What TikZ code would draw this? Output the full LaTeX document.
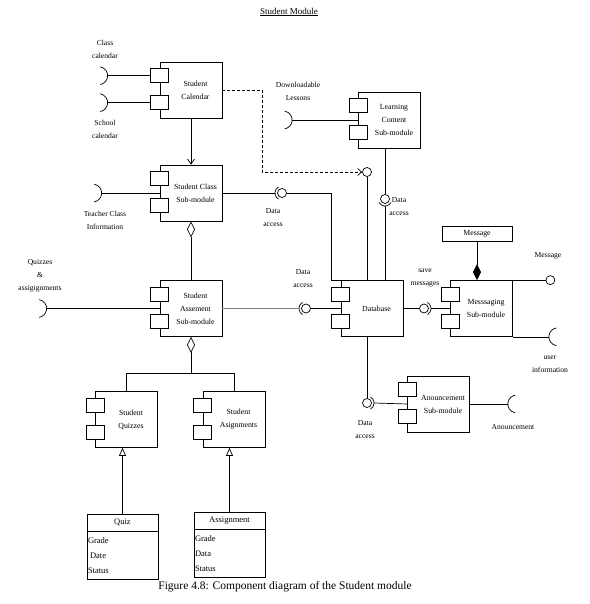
\documentclass[tikz,border=0pt]{standalone}
\usepackage{fontspec}
\setmainfont{Liberation Serif}
\usetikzlibrary{arrows.meta,calc,positioning}
\newcommand{\boxfont}{\fontsize{7.8}{13}\selectfont}
\newcommand{\lblfont}{\fontsize{7.6}{13}\selectfont}
\newcommand{\clsfont}{\fontsize{8.5}{15}\selectfont}
\tikzset{
  comp/.style={draw, fill=white, minimum width=62pt, minimum height=56pt, inner sep=0pt,
    label={[comptext]center:#1}},
  comptext/.style={align=center, font=\boxfont, inner sep=0pt, xshift=4.5pt},
  ball/.style={draw, fill=white, circle, inner sep=0pt, minimum size=9pt},
  lbl/.style={align=center, font=\lblfont, inner sep=0pt},
  clshead/.style={draw, minimum width=71pt, minimum height=17pt, font=\clsfont, inner sep=0pt},
  clsbody/.style={draw, minimum width=71pt, minimum height=48pt, text width=69pt, align=left, font=\clsfont, inner sep=1pt},
  odiamond/.style={{Diamond[open,length=16pt,width=8pt]}-},
}
% two ports on the left side of a component
\newcommand{\compports}[1]{%
  \draw[fill=white] ($(#1.north west)+(-9,7)$) rectangle ++(18,14);
  \draw[fill=white] ($(#1.north west)+(-9,34)$) rectangle ++(18,14);
  \coordinate (#1-p1) at ($(#1.north west)+(-9,14)$);
  \coordinate (#1-p2) at ($(#1.north west)+(-9,41)$);
}
% required interface: point, direction of the bulge
\newcommand{\sockend}[2]{\draw (#1) ++(#2+180:9) ++(#2-80:9) arc (#2-80:#2+80:9);}
% cup round a ball
\newcommand{\halfcup}[2]{\draw (#1) ++(#2-60:7) arc (#2-60:#2+60:7);}

\begin{document}
\begin{tikzpicture}[x=1pt, y=-1pt, line width=0.7pt]
  \useasboundingbox (0,0) rectangle (589,604);
  \node[font=\fontsize{9}{11}\selectfont] (title) at (289,12) {\underline{Student Module}};

  % components
  \node[comp={Student\\Calendar}] (cal) at (191,90) {};
  \node[comp={Student Class\\Sub-module}] (cls) at (191,193) {};
  \node[comp={Student\\Assement\\Sub-module}] (asm) at (191,308.5) {};
  \node[comp={Learning\\Content\\Sub-module}] (lcs) at (389.5,120) {};
  \node[comp={Database}] (db) at (372,308.5) {};
  \node[comp={Messsaging\\Sub-module}] (msg) at (481.5,308.5) {};
  \node[comp={Anouncement\\Sub-module}] (ann) at (438.5,404) {};
  \node[comp={Student\\Quizzes}] (qz) at (126.5,419.5) {};
  \node[comp={Student\\Asignments}] (asg) at (234,419.5) {};
  \foreach \c in {cal,cls,asm,lcs,db,msg,ann,qz,asg} {\compports{\c}}

  % required interfaces
  \draw (cal-p1) -- ++(-43,0) coordinate (clcal);
  \sockend{clcal}{0}
  \draw (cal-p2) -- ++(-43,0) coordinate (scal);
  \sockend{scal}{0}
  \draw (cls.west) -- ++(-58,0) coordinate (tcls);
  \sockend{tcls}{0}
  \draw (asm.west) -- ++(-113,0) coordinate (qzin);
  \sockend{qzin}{0}
  \draw (lcs.west) -- ++(-66,0) coordinate (dlin);
  \sockend{dlin}{0}
  \draw (msg.south east) -- ++(36,0) coordinate (uinfo);
  \sockend{uinfo}{180}
  \draw (ann.east) -- ++(38,0) coordinate (annin);
  \sockend{annin}{180}

  % provided interface
  \node[ball] (mball) at ($(msg.north east)+(37.5,0)$) {};
  \draw (msg.north east) -- (mball.west);

  % data access
  \node[ball] (cball) at (282,193) {};
  \halfcup{cball}{180}
  \draw (cls.east) -- ($(cball)+(-7,0)$);
  \draw (cball.east) -| ($(db.north west)+(-9,0)$) -- (db.north west);

  \node[ball] (aball) at (306,308.5) {};
  \halfcup{aball}{180}
  \draw[gray, line width=0.5pt] (asm.east) -- ($(aball)+(-7,0)$);
  \draw (aball.east) -- (db.west);

  \node[ball] (sball) at (424,308.5) {};
  \halfcup{sball}{0}
  \draw (db.east) -- (sball.west);
  \draw ($(sball)+(7,0)$) -- (msg.west);

  \node[ball] (dball) at (367,172) {};
  \draw[densely dashed, -{Straight Barb[length=4pt,width=7pt]}] (cal.east) -- ++(40,0) |- (dball.west);
  \draw (dball.south) -- (dball.south |- db.north);

  \node[ball] (lball) at (385,199) {};
  \halfcup{lball}{90}
  \draw (lball.north) -- (lball.north |- lcs.south);
  \coordinate (lcup) at ($(lball)+(0,7)$);
  \draw (lcup) -- (lcup |- db.north);

  \node[ball] (nball) at (367,403) {};
  \halfcup{nball}{0}
  \draw (nball.north) -- (nball.north |- db.south);
  \draw ($(nball)+(7,0)$) -- (ann.west);

  % message class
  \node[draw, minimum width=70pt, minimum height=15pt, font=\boxfont, inner sep=0pt] (mcls) at (477,233.5) {Message};
  \draw[-{Diamond[length=16pt,width=8pt]}] (mcls.south) -- (mcls.south |- msg.north);

  % hierarchy
  \draw[-{Straight Barb[length=5pt,width=7pt]}] (cal.south) -- (cls.north);
  \draw[odiamond] (cls.south) -- (asm.north);
  \draw[odiamond] (asm.south) -- ++(0,36) coordinate (fork) -| (qz.north);
  \draw (fork) -| (asg.north);

  % classes
  \node[clshead] (quiz) at (122.5,522.5) {Quiz};
  \node[clsbody, below=0pt of quiz] (quizattr) {Grade\\\hspace*{2pt}Date\\Status};
  \node[clshead] (asgn) at (229.5,520.5) {Assignment};
  \node[clsbody, below=0pt of asgn] (asgnattr) {Grade\\Data\\Status};
  \draw[-{Triangle[open,length=8pt,width=7pt]}] (quiz.north) -- (quiz.north |- qz.south);
  \draw[-{Triangle[open,length=8pt,width=7pt]}] (asgn.north) -- (asgn.north |- asg.south);

  % labels
  \node[lbl] (lclcal) at (105,49.5) {Class\\calendar};
  \node[lbl] (lscal) at (105,129.5) {School\\calendar};
  \node[lbl] (ltcls) at (105,220) {Teacher Class\\Information};
  \node[lbl] (lqz) at (40,275.5) {Quizzes\\\&\\assigignments};
  \node[lbl] (ldl) at (298,91.5) {Downloadable\\Lessons};
  \node[lbl] (lda1) at (273,218) {Data\\access};
  \node[lbl] (lda2) at (303,279) {Data\\access};
  \node[lbl, anchor=west] (lda3) at (389,206.5) {Data\\access};
  \node[lbl] (lda4) at (365,429.5) {Data\\access};
  \node[lbl] (lsave) at (425,278.5) {save\\messages};
  \node[lbl] (lmsg) at (548,256) {Message};
  \node[lbl] (luser) at (550,364.5) {user\\information};
  \node[lbl] (lann) at (513,427) {Anouncement};
  \node[font=\fontsize{11.5}{13}\selectfont, inner sep=0pt] (caption) at (285,587) {Figure 4.8: Component diagram of the Student module};
\end{tikzpicture}
\end{document}
